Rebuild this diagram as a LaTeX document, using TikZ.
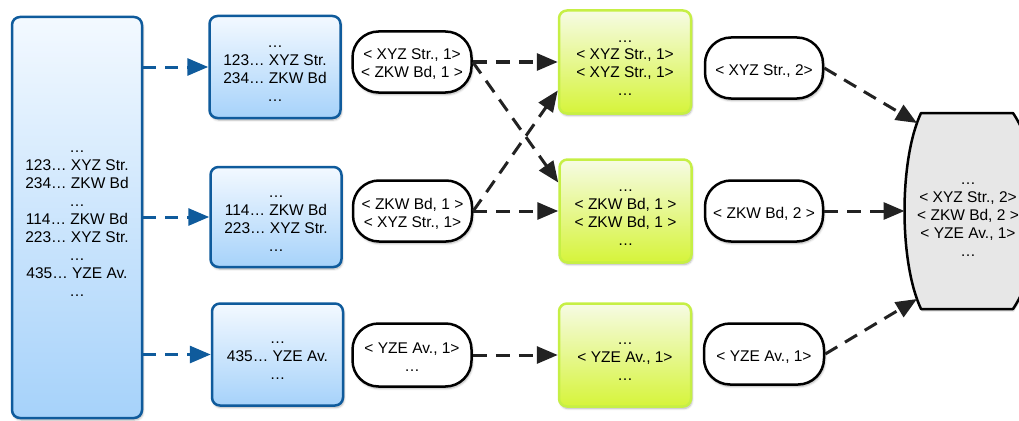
\documentclass[tikz,border=0pt]{standalone}
\usepackage{fontspec}
\setmainfont{Liberation Sans}
\usetikzlibrary{arrows.meta,shapes.misc,shadows.blur,calc}

\definecolor{blueline}{HTML}{0F5B9C}
\definecolor{bluetop}{HTML}{F3F9FF}
\definecolor{bluebot}{HTML}{A6D2FA}
\definecolor{greenline}{HTML}{C6EF45}
\definecolor{greentop}{HTML}{F6FBE4}
\definecolor{greenbot}{HTML}{D6F43A}
\definecolor{resultfill}{HTML}{E7E7E7}
\definecolor{flowline}{HTML}{222222}

% centred stack of lines, with no height of its own so that the
% boxes' minimum sizes alone fix them; lowered a little to sit centred
\newcommand\textstack[1]{\smash{\raisebox{-7pt}{\begin{tabular}{@{}c@{}}#1\end{tabular}}}}

\begin{document}
\begin{tikzpicture}[x=1pt,y=-1pt,
  every node/.style={font=\fontsize{15.5}{18}\selectfont, inner sep=0pt},
  softshadow/.style={blur shadow={shadow blur steps=6, shadow xshift=1pt, shadow yshift=-2pt, shadow opacity=30}},
  bluebox/.style={draw=blueline, line width=2.5pt, rounded corners=8pt,
    top color=bluetop, bottom color=bluebot, softshadow},
  greenbox/.style={draw=greenline, line width=2.5pt, rounded corners=8pt,
    top color=greentop, bottom color=greenbot, softshadow,
    minimum width=132pt, minimum height=103pt},
  pill/.style={draw=black, line width=2.5pt, rounded corners=26pt, fill=white, softshadow,
    minimum width=119pt, minimum height=61pt},
  blueflow/.style={draw=blueline, line width=3pt, dash pattern=on 13pt off 9pt,
    -{Triangle[length=21pt,width=17pt]}},
  flow/.style={draw=flowline, line width=3pt, dash pattern=on 14pt off 9pt,
    -{Triangle[length=21pt,width=17pt]}}
]
\useasboundingbox (0,0) rectangle (1019,420);

% input records
\node[bluebox, minimum width=130pt, minimum height=401pt] (L) at (77,217.5)
  {\textstack{…\\123… XYZ Str.\\234… ZKW Bd\\…\\114… ZKW Bd\\223… XYZ Str.\\…\\435… YZE Av.\\…}};

% splits
\node[bluebox, minimum width=131pt, minimum height=102pt] (B1) at (275,67)
  {\textstack{…\\123… XYZ Str.\\234… ZKW Bd\\…}};
\node[bluebox, minimum width=131pt, minimum height=100pt] (B2) at (276,217)
  {\textstack{…\\114… ZKW Bd\\223… XYZ Str.\\…}};
\node[bluebox, minimum width=131pt, minimum height=102pt] (B3) at (277.5,354.5)
  {\textstack{…\\435… YZE Av.\\…}};

% map output
\node[pill] (P1) at (412,62) {\textstack{< XYZ Str., 1>\\< ZKW Bd, 1 >}};
\node[pill] (P2) at (412.5,211) {\textstack{< ZKW Bd, 1 >\\< XYZ Str., 1>}};
\node[pill, minimum height=63pt] (P3) at (412,355) {\textstack{< YZE Av., 1>\\…}};

% grouped keys
\node[greenbox] (G1) at (625,62) {\textstack{…\\< XYZ Str., 1>\\< XYZ Str., 1>\\…}};
\node[greenbox] (G2) at (625.5,211) {\textstack{…\\< ZKW Bd, 1 >\\< ZKW Bd, 1 >\\…}};
\node[greenbox] (G3) at (625,355) {\textstack{…\\< YZE Av., 1>\\…}};

% reduce output
\node[pill, minimum width=118pt] (P4) at (764,68) {\textstack{< XYZ Str., 2>}};
\node[pill, minimum width=118pt] (P5) at (764,211) {\textstack{< ZKW Bd, 2 >}};
\node[pill, minimum width=120pt] (P6) at (764,354) {\textstack{< YZE Av., 1>}};

% final result: barrel-shaped container with a soft shadow
\fill[black, opacity=0.12] (922,115.5) -- (1014,115.5)
  .. controls (1046,162) and (1046,264) .. (1014,311.5) -- (922,311.5)
  .. controls (900,264) and (900,162) .. (922,115.5) -- cycle;
\draw[line width=2.5pt, fill=resultfill, line join=round]
  (921,113) -- (1013,113)
  .. controls (1045,160) and (1045,262) .. (1013,309) -- (921,309)
  .. controls (899,262) and (899,160) .. (921,113) -- cycle;
\node (R) at (968,213) {\textstack{…\\< XYZ Str., 2>\\< ZKW Bd, 2 >\\< YZE Av., 1>\\…}};
\coordinate (r1) at (917,123);
\coordinate (r2) at (904.5,211);
\coordinate (r3) at (917,299);

% connectors
\draw[blueflow] (L.east |- B1.west) -- (B1.west);
\draw[blueflow] (L.east |- B2.west) -- (B2.west);
\draw[blueflow] (L.east |- B3.west) -- (B3.west);

\draw[flow] (P1.east) -- (G1.west);
\draw[flow] (P1.east) -- ($(G2.north west)!0.23!(G2.south west)$);
\draw[flow] (P2.east) -- ($(G1.north west)!0.77!(G1.south west)$);
\draw[flow] (P2.east) -- (G2.west);
\draw[flow] (P3.east) -- (G3.west);

\draw[flow] (P4.east) -- (r1);
\draw[flow] (P5.east) -- (r2);
\draw[flow] (P6.east) -- (r3);
\end{tikzpicture}
\end{document}
